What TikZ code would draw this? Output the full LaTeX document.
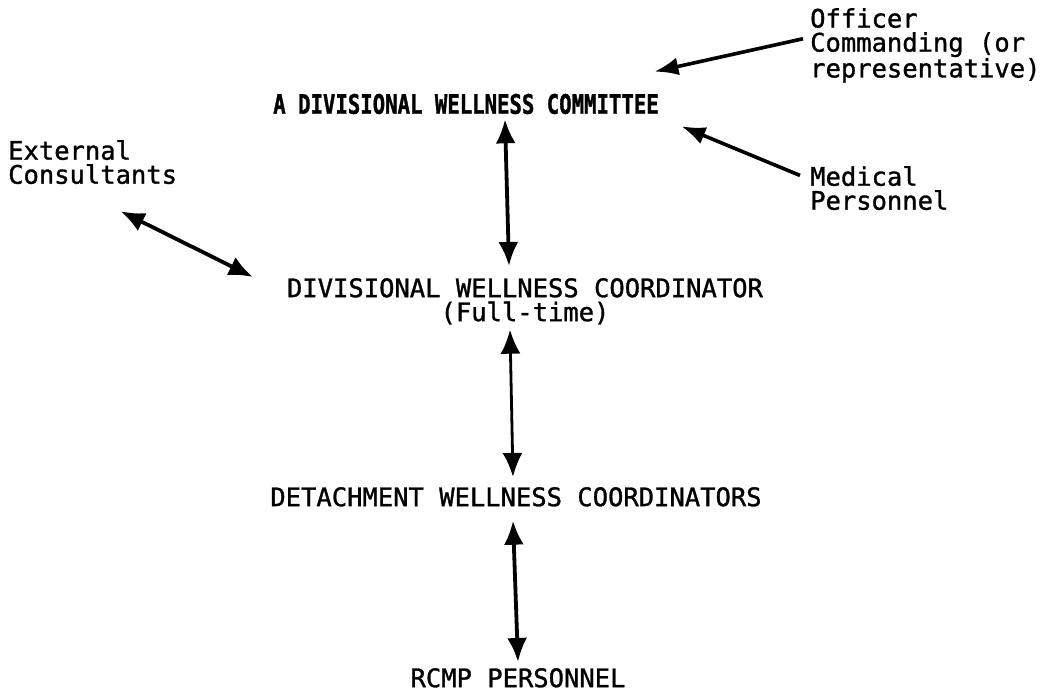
\documentclass[tikz,border=0pt]{standalone}
\usepackage{graphicx}
\usepackage{fontspec}
\newfontfamily\typew{DejaVu Sans Mono}[FakeBold=1.2]
\newfontfamily\typeb{DejaVu Sans Mono Bold}[FakeBold=1.5]
\usetikzlibrary{arrows.meta}
\begin{document}
\begin{tikzpicture}[x=1pt,y=-1pt,
  lbl/.style={inner sep=0pt,font=\typew\fontsize{25.5}{24}\selectfont},
  arr/.style={line width=3.8pt,{Latex[length=24pt,width=20pt]}-{Latex[length=24pt,width=20pt]}},
  arrone/.style={line width=3.6pt,-{Latex[length=24pt,width=18pt]}}]
\useasboundingbox (0,0) rectangle (1045,700);
\node[lbl] (comm) at (466,104) {\scalebox{0.81}[1.05]{\typeb A DIVISIONAL WELLNESS COMMITTEE}};
\node[lbl,anchor=north west,align=left] (off) at (810,8) {Officer\\Commanding (or\\representative)};
\node[lbl,anchor=north west,align=left] (med) at (810,166) {Medical\\Personnel};
\node[lbl,anchor=north west,align=left] (ext) at (8,140) {External\\Consultants};
\node[lbl,anchor=north,align=center] (coord) at (525,278) {DIVISIONAL WELLNESS COORDINATOR\\(Full-time)};
\node[lbl,anchor=north] (det) at (516,487) {DETACHMENT WELLNESS COORDINATORS};
\node[lbl,anchor=north] (rcmp) at (518,668) {RCMP PERSONNEL};
\draw[arr] ([xshift=39pt,yshift=-5pt]comm.south) -- ([xshift=-16pt,yshift=12pt]coord.north);
\draw[arr,line width=2.8pt] ([xshift=-15pt,yshift=-5pt]coord.south) -- ([xshift=-3pt,yshift=10pt]det.north);
\draw[arr] ([xshift=-3pt,yshift=-14pt]det.south) -- ([yshift=6pt]rcmp.north);
\draw[arr] ([xshift=28pt,yshift=-27pt]ext.south) -- ([xshift=-34pt,yshift=1pt]coord.north west);
\draw[arrone] ([xshift=-7pt,yshift=6.7pt]off.west) -- ([xshift=-4.5pt,yshift=22pt]comm.north east);
\draw[arrone] ([xshift=-10pt,yshift=12.7pt]med.west) -- ([xshift=22.5pt,yshift=-12pt]comm.south east);
\end{tikzpicture}
\end{document}
